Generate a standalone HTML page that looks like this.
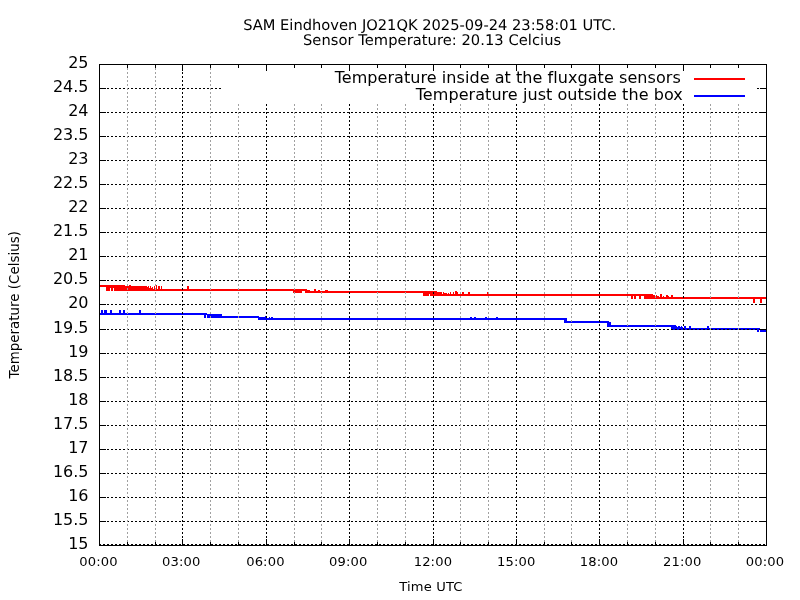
<!DOCTYPE html>
<html lang="en"><head><meta charset="utf-8"><title>SAM Eindhoven JO21QK - Sensor Temperature</title>
<style>html,body{margin:0;padding:0;background:#fff;}body{width:800px;height:600px;overflow:hidden;}svg{display:block;will-change:transform;font-family:"DejaVu Sans","Liberation Sans",sans-serif;fill:#000;}.t{font-size:14.67px;text-rendering:geometricPrecision}.k{font-size:16px}.y{font-size:16px}.x{font-size:13.1px;letter-spacing:0.14px}.r{font-size:13.33px}</style></head><body>
<svg width="800" height="600" viewBox="0 0 800 600">
<rect x="0" y="0" width="800" height="600" fill="#fff"/>
<path shape-rendering="crispEdges" fill="#ff0000" d="M100 285h6v2h-6zM106 285h4v6h-4zM110 285h1v3h-1zM111 285h2v6h-2zM113 285h1v3h-1zM114 285h11v6h-11zM125 286h4v5h-4zM129 285h2v6h-2zM131 286h16v5h-16zM147 287h1v4h-1zM148 286h1v5h-1zM149 288h1v3h-1zM150 286h1v5h-1zM151 288h1v3h-1zM152 287h1v4h-1zM153 289h1v2h-1zM154 286h1v5h-1zM155 288h1v3h-1zM156 285h1v6h-1zM157 289h1v2h-1zM158 286h2v5h-2zM160 289h1v2h-1zM161 286h1v5h-1zM162 289h25v2h-25zM187 286h2v5h-2zM189 289h104v2h-104zM293 289h1v4h-1zM294 289h1v3h-1zM295 289h7v4h-7zM302 289h3v2h-3zM305 289h2v4h-2zM307 290h3v3h-3zM310 291h4v2h-4zM314 289h2v4h-2zM316 291h2v2h-2zM318 290h2v3h-2zM320 291h5v2h-5zM325 290h3v3h-3zM328 291h95v2h-95zM423 291h6v5h-6zM429 291h1v3h-1zM430 291h7v5h-7zM437 292h5v4h-5zM442 294h1v2h-1zM443 292h1v4h-1zM444 293h3v3h-3zM447 294h1v2h-1zM448 293h1v3h-1zM449 294h1v2h-1zM450 292h1v4h-1zM451 294h2v2h-2zM453 292h1v4h-1zM454 294h1v2h-1zM455 291h2v5h-2zM457 292h1v4h-1zM458 294h4v2h-4zM462 292h2v4h-2zM464 294h4v2h-4zM468 292h2v4h-2zM470 294h17v2h-17zM487 292h2v4h-2zM489 294h142v2h-142zM631 294h2v5h-2zM633 294h1v2h-1zM634 294h2v5h-2zM636 294h3v2h-3zM639 294h2v5h-2zM641 294h3v2h-3zM644 294h9v5h-9zM653 295h2v4h-2zM655 296h1v3h-1zM656 295h1v4h-1zM657 296h2v3h-2zM659 297h1v2h-1zM660 294h2v5h-2zM662 297h1v2h-1zM663 296h1v3h-1zM664 297h2v2h-2zM666 295h2v4h-2zM668 296h1v3h-1zM669 297h2v2h-2zM671 295h2v4h-2zM673 297h80v2h-80zM753 297h2v6h-2zM755 297h5v2h-5zM760 297h2v6h-2zM762 297h5v2h-5z"/>
<path shape-rendering="crispEdges" fill="#0000ff" d="M100 313h1v2h-1zM101 310h2v5h-2zM103 313h1v2h-1zM104 310h3v5h-3zM107 313h3v2h-3zM110 310h2v5h-2zM112 313h7v2h-7zM119 310h2v5h-2zM121 313h2v2h-2zM123 310h2v5h-2zM125 313h14v2h-14zM139 310h2v5h-2zM141 313h63v2h-63zM204 313h2v5h-2zM206 313h1v2h-1zM207 314h15v4h-15zM222 316h36v2h-36zM258 316h1v4h-1zM259 317h6v3h-6zM265 316h2v4h-2zM267 318h2v2h-2zM269 317h1v3h-1zM270 318h1v2h-1zM271 317h2v3h-2zM273 318h197v2h-197zM470 317h2v3h-2zM472 318h2v2h-2zM474 317h2v3h-2zM476 318h9v2h-9zM485 317h2v3h-2zM487 318h9v2h-9zM496 317h2v3h-2zM498 318h66v2h-66zM564 318h3v5h-3zM567 321h40v2h-40zM607 321h2v6h-2zM609 322h2v5h-2zM611 325h60v2h-60zM671 325h5v5h-5zM676 326h1v4h-1zM677 327h1v3h-1zM678 326h2v4h-2zM680 327h1v3h-1zM681 326h1v4h-1zM682 327h1v3h-1zM683 328h1v2h-1zM684 326h2v4h-2zM686 328h3v2h-3zM689 326h2v4h-2zM691 328h16v2h-16zM707 326h2v4h-2zM709 328h48v2h-48zM757 328h2v4h-2zM759 328h1v2h-1zM760 330h7v2h-7z"/>
<g shape-rendering="crispEdges" fill="none" stroke-width="1" stroke-dasharray="2 2">
<line x1="99" y1="88.5" x2="766" y2="88.5" stroke="#000"/>
<line x1="99" y1="112.5" x2="766" y2="112.5" stroke="#000"/>
<line x1="99" y1="136.5" x2="766" y2="136.5" stroke="#000"/>
<line x1="99" y1="160.5" x2="766" y2="160.5" stroke="#000"/>
<line x1="99" y1="184.5" x2="766" y2="184.5" stroke="#000"/>
<line x1="99" y1="208.5" x2="766" y2="208.5" stroke="#000"/>
<line x1="99" y1="232.5" x2="766" y2="232.5" stroke="#000"/>
<line x1="99" y1="256.5" x2="766" y2="256.5" stroke="#000"/>
<line x1="99" y1="280.5" x2="766" y2="280.5" stroke="#000"/>
<line x1="99" y1="304.5" x2="766" y2="304.5" stroke="#000"/>
<line x1="99" y1="329.5" x2="766" y2="329.5" stroke="#000"/>
<line x1="99" y1="353.5" x2="766" y2="353.5" stroke="#000"/>
<line x1="99" y1="377.5" x2="766" y2="377.5" stroke="#000"/>
<line x1="99" y1="401.5" x2="766" y2="401.5" stroke="#000"/>
<line x1="99" y1="425.5" x2="766" y2="425.5" stroke="#000"/>
<line x1="99" y1="449.5" x2="766" y2="449.5" stroke="#000"/>
<line x1="99" y1="473.5" x2="766" y2="473.5" stroke="#000"/>
<line x1="99" y1="497.5" x2="766" y2="497.5" stroke="#000"/>
<line x1="99" y1="521.5" x2="766" y2="521.5" stroke="#000"/>
<line x1="99" y1="544.5" x2="766" y2="544.5" stroke="#000"/>
<line x1="127.5" y1="64" x2="127.5" y2="545" stroke="#a0a0a0"/>
<line x1="155.5" y1="64" x2="155.5" y2="545" stroke="#a0a0a0"/>
<line x1="182.5" y1="64" x2="182.5" y2="545" stroke="#000"/>
<line x1="210.5" y1="64" x2="210.5" y2="545" stroke="#a0a0a0"/>
<line x1="238.5" y1="64" x2="238.5" y2="545" stroke="#a0a0a0"/>
<line x1="266.5" y1="64" x2="266.5" y2="545" stroke="#000"/>
<line x1="294.5" y1="64" x2="294.5" y2="545" stroke="#a0a0a0"/>
<line x1="321.5" y1="64" x2="321.5" y2="545" stroke="#a0a0a0"/>
<line x1="349.5" y1="64" x2="349.5" y2="545" stroke="#000"/>
<line x1="377.5" y1="64" x2="377.5" y2="545" stroke="#a0a0a0"/>
<line x1="405.5" y1="64" x2="405.5" y2="545" stroke="#a0a0a0"/>
<line x1="433.5" y1="64" x2="433.5" y2="545" stroke="#000"/>
<line x1="460.5" y1="64" x2="460.5" y2="545" stroke="#a0a0a0"/>
<line x1="488.5" y1="64" x2="488.5" y2="545" stroke="#a0a0a0"/>
<line x1="516.5" y1="64" x2="516.5" y2="545" stroke="#000"/>
<line x1="544.5" y1="64" x2="544.5" y2="545" stroke="#a0a0a0"/>
<line x1="571.5" y1="64" x2="571.5" y2="545" stroke="#a0a0a0"/>
<line x1="599.5" y1="64" x2="599.5" y2="545" stroke="#000"/>
<line x1="627.5" y1="64" x2="627.5" y2="545" stroke="#a0a0a0"/>
<line x1="655.5" y1="64" x2="655.5" y2="545" stroke="#a0a0a0"/>
<line x1="683.5" y1="64" x2="683.5" y2="545" stroke="#000"/>
<line x1="710.5" y1="64" x2="710.5" y2="545" stroke="#a0a0a0"/>
<line x1="738.5" y1="64" x2="738.5" y2="545" stroke="#a0a0a0"/>
</g>
<rect x="222" y="65" width="538" height="38.5" fill="#fff"/>
<rect x="757" y="88" width="2" height="1" fill="#000" shape-rendering="crispEdges"/>
<g shape-rendering="crispEdges" stroke="#000" stroke-width="1" fill="none">
<line x1="99" y1="64.5" x2="106" y2="64.5"/>
<line x1="767" y1="64.5" x2="760" y2="64.5"/>
<line x1="99" y1="88.5" x2="106" y2="88.5"/>
<line x1="767" y1="88.5" x2="760" y2="88.5"/>
<line x1="99" y1="112.5" x2="106" y2="112.5"/>
<line x1="767" y1="112.5" x2="760" y2="112.5"/>
<line x1="99" y1="136.5" x2="106" y2="136.5"/>
<line x1="767" y1="136.5" x2="760" y2="136.5"/>
<line x1="99" y1="160.5" x2="106" y2="160.5"/>
<line x1="767" y1="160.5" x2="760" y2="160.5"/>
<line x1="99" y1="184.5" x2="106" y2="184.5"/>
<line x1="767" y1="184.5" x2="760" y2="184.5"/>
<line x1="99" y1="208.5" x2="106" y2="208.5"/>
<line x1="767" y1="208.5" x2="760" y2="208.5"/>
<line x1="99" y1="232.5" x2="106" y2="232.5"/>
<line x1="767" y1="232.5" x2="760" y2="232.5"/>
<line x1="99" y1="256.5" x2="106" y2="256.5"/>
<line x1="767" y1="256.5" x2="760" y2="256.5"/>
<line x1="99" y1="280.5" x2="106" y2="280.5"/>
<line x1="767" y1="280.5" x2="760" y2="280.5"/>
<line x1="99" y1="304.5" x2="106" y2="304.5"/>
<line x1="767" y1="304.5" x2="760" y2="304.5"/>
<line x1="99" y1="329.5" x2="106" y2="329.5"/>
<line x1="767" y1="329.5" x2="760" y2="329.5"/>
<line x1="99" y1="353.5" x2="106" y2="353.5"/>
<line x1="767" y1="353.5" x2="760" y2="353.5"/>
<line x1="99" y1="377.5" x2="106" y2="377.5"/>
<line x1="767" y1="377.5" x2="760" y2="377.5"/>
<line x1="99" y1="401.5" x2="106" y2="401.5"/>
<line x1="767" y1="401.5" x2="760" y2="401.5"/>
<line x1="99" y1="425.5" x2="106" y2="425.5"/>
<line x1="767" y1="425.5" x2="760" y2="425.5"/>
<line x1="99" y1="449.5" x2="106" y2="449.5"/>
<line x1="767" y1="449.5" x2="760" y2="449.5"/>
<line x1="99" y1="473.5" x2="106" y2="473.5"/>
<line x1="767" y1="473.5" x2="760" y2="473.5"/>
<line x1="99" y1="497.5" x2="106" y2="497.5"/>
<line x1="767" y1="497.5" x2="760" y2="497.5"/>
<line x1="99" y1="521.5" x2="106" y2="521.5"/>
<line x1="767" y1="521.5" x2="760" y2="521.5"/>
<line x1="99" y1="545.5" x2="106" y2="545.5"/>
<line x1="767" y1="545.5" x2="760" y2="545.5"/>
<line x1="99.5" y1="64" x2="99.5" y2="71"/>
<line x1="99.5" y1="546" x2="99.5" y2="539"/>
<line x1="127.5" y1="64" x2="127.5" y2="68"/>
<line x1="127.5" y1="546" x2="127.5" y2="542"/>
<line x1="155.5" y1="64" x2="155.5" y2="68"/>
<line x1="155.5" y1="546" x2="155.5" y2="542"/>
<line x1="182.5" y1="64" x2="182.5" y2="71"/>
<line x1="182.5" y1="546" x2="182.5" y2="539"/>
<line x1="210.5" y1="64" x2="210.5" y2="68"/>
<line x1="210.5" y1="546" x2="210.5" y2="542"/>
<line x1="238.5" y1="64" x2="238.5" y2="68"/>
<line x1="238.5" y1="546" x2="238.5" y2="542"/>
<line x1="266.5" y1="64" x2="266.5" y2="71"/>
<line x1="266.5" y1="546" x2="266.5" y2="539"/>
<line x1="294.5" y1="64" x2="294.5" y2="68"/>
<line x1="294.5" y1="546" x2="294.5" y2="542"/>
<line x1="321.5" y1="64" x2="321.5" y2="68"/>
<line x1="321.5" y1="546" x2="321.5" y2="542"/>
<line x1="349.5" y1="64" x2="349.5" y2="71"/>
<line x1="349.5" y1="546" x2="349.5" y2="539"/>
<line x1="377.5" y1="64" x2="377.5" y2="68"/>
<line x1="377.5" y1="546" x2="377.5" y2="542"/>
<line x1="405.5" y1="64" x2="405.5" y2="68"/>
<line x1="405.5" y1="546" x2="405.5" y2="542"/>
<line x1="433.5" y1="64" x2="433.5" y2="71"/>
<line x1="433.5" y1="546" x2="433.5" y2="539"/>
<line x1="460.5" y1="64" x2="460.5" y2="68"/>
<line x1="460.5" y1="546" x2="460.5" y2="542"/>
<line x1="488.5" y1="64" x2="488.5" y2="68"/>
<line x1="488.5" y1="546" x2="488.5" y2="542"/>
<line x1="516.5" y1="64" x2="516.5" y2="71"/>
<line x1="516.5" y1="546" x2="516.5" y2="539"/>
<line x1="544.5" y1="64" x2="544.5" y2="68"/>
<line x1="544.5" y1="546" x2="544.5" y2="542"/>
<line x1="571.5" y1="64" x2="571.5" y2="68"/>
<line x1="571.5" y1="546" x2="571.5" y2="542"/>
<line x1="599.5" y1="64" x2="599.5" y2="71"/>
<line x1="599.5" y1="546" x2="599.5" y2="539"/>
<line x1="627.5" y1="64" x2="627.5" y2="68"/>
<line x1="627.5" y1="546" x2="627.5" y2="542"/>
<line x1="655.5" y1="64" x2="655.5" y2="68"/>
<line x1="655.5" y1="546" x2="655.5" y2="542"/>
<line x1="683.5" y1="64" x2="683.5" y2="71"/>
<line x1="683.5" y1="546" x2="683.5" y2="539"/>
<line x1="710.5" y1="64" x2="710.5" y2="68"/>
<line x1="710.5" y1="546" x2="710.5" y2="542"/>
<line x1="738.5" y1="64" x2="738.5" y2="68"/>
<line x1="738.5" y1="546" x2="738.5" y2="542"/>
<line x1="766.5" y1="64" x2="766.5" y2="71"/>
<line x1="766.5" y1="546" x2="766.5" y2="539"/>
<rect x="99.5" y="64.5" width="667" height="481"/>
</g>
<text class="k" x="680.8" y="83" text-anchor="end" letter-spacing="0.06">Temperature inside at the fluxgate sensors</text>
<text class="k" x="682.8" y="100" text-anchor="end" letter-spacing="0.0625">Temperature just outside the box</text>
<g shape-rendering="crispEdges"><rect x="694" y="78" width="51" height="2" fill="#ff0000"/><rect x="694" y="95" width="51" height="2" fill="#0000ff"/></g>
<text class="t" x="429.7" y="30" text-anchor="middle">SAM Eindhoven JO21QK 2025-09-24 23:58:01 UTC.</text>
<text class="t" x="432.1" y="45" text-anchor="middle" letter-spacing="0.06">Sensor Temperature: 20.13 Celcius</text>
<text class="y" x="88.5" y="68" text-anchor="end">25</text>
<text class="y" x="88.5" y="92" text-anchor="end">24.5</text>
<text class="y" x="88.5" y="116" text-anchor="end">24</text>
<text class="y" x="88.5" y="140" text-anchor="end">23.5</text>
<text class="y" x="88.5" y="164" text-anchor="end">23</text>
<text class="y" x="88.5" y="188" text-anchor="end">22.5</text>
<text class="y" x="88.5" y="212" text-anchor="end">22</text>
<text class="y" x="88.5" y="236" text-anchor="end">21.5</text>
<text class="y" x="88.5" y="260" text-anchor="end">21</text>
<text class="y" x="88.5" y="284" text-anchor="end">20.5</text>
<text class="y" x="88.5" y="308" text-anchor="end">20</text>
<text class="y" x="88.5" y="333" text-anchor="end">19.5</text>
<text class="y" x="88.5" y="357" text-anchor="end">19</text>
<text class="y" x="88.5" y="381" text-anchor="end">18.5</text>
<text class="y" x="88.5" y="405" text-anchor="end">18</text>
<text class="y" x="88.5" y="429" text-anchor="end">17.5</text>
<text class="y" x="88.5" y="453" text-anchor="end">17</text>
<text class="y" x="88.5" y="477" text-anchor="end">16.5</text>
<text class="y" x="88.5" y="501" text-anchor="end">16</text>
<text class="y" x="88.5" y="525" text-anchor="end">15.5</text>
<text class="y" x="88.5" y="549" text-anchor="end">15</text>
<text class="x" x="98.5" y="566" text-anchor="middle">00:00</text>
<text class="x" x="181.2" y="566" text-anchor="middle">03:00</text>
<text class="x" x="265.4" y="566" text-anchor="middle">06:00</text>
<text class="x" x="348.2" y="566" text-anchor="middle">09:00</text>
<text class="x" x="432.9" y="566" text-anchor="middle">12:00</text>
<text class="x" x="516.2" y="566" text-anchor="middle">15:00</text>
<text class="x" x="599.0" y="566" text-anchor="middle">18:00</text>
<text class="x" x="682.2" y="566" text-anchor="middle">21:00</text>
<text class="x" x="765.0" y="566" text-anchor="middle">00:00</text>
<text class="x" x="431" y="591" text-anchor="middle">Time UTC</text>
<text class="r" transform="translate(18.8 378.5) rotate(-90)" text-anchor="start" letter-spacing="0.055">Temperature (Celsius)</text>
</svg></body></html>
